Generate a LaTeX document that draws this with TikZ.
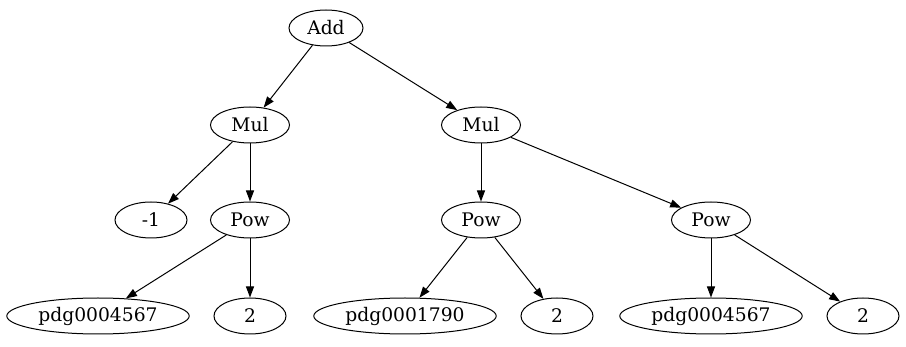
\documentclass[tikz,border=0pt]{standalone}
\usepackage{fontspec}
\setmainfont{DejaVu Serif}
\usetikzlibrary{arrows.meta,shapes.geometric}

\tikzset{
  expr/.style={draw,ellipse,line width=1pt,minimum height=36pt,minimum width=72pt,
    inner xsep=4.9pt,inner ysep=0pt,font=\fontsize{18.7}{22}\selectfont},
  opnode/.style={expr,minimum width=79pt},
  edge/.style={line width=1pt,-{Triangle[length=11pt,width=8pt]}}
}

\begin{document}
\begin{tikzpicture}[x=1pt,y=-1pt]
  \useasboundingbox (0,0) rectangle (906,347);

  % Root and operators
  \node[expr,minimum width=74pt] (add) at (326,28) {Add};
  \node[opnode] (mulL) at (250,125) {Mul};
  \node[opnode] (mulR) at (481,125) {Mul};
  \node[opnode] (powL) at (250,220) {Pow};
  \node[opnode] (powM) at (481,220) {Pow};
  \node[opnode] (powR) at (711,220) {Pow};

  % Leaves
  \node[expr] (neg) at (151,220) {-1};
  \node[expr] (pdgA) at (98,316) {pdg0004567};
  \node[expr] (twoA) at (250,316) {2};
  \node[expr] (pdgB) at (405,316) {pdg0001790};
  \node[expr] (twoB) at (557,316) {2};
  \node[expr] (pdgC) at (711,316) {pdg0004567};
  \node[expr] (twoC) at (863,316) {2};

  % Edges
  \draw[edge] (add) -- (mulL);
  \draw[edge] (add) -- (mulR);
  \draw[edge] (mulL) -- (neg);
  \draw[edge] (mulL) -- (powL);
  \draw[edge] (mulR) -- (powM);
  \draw[edge] (mulR) -- (powR);
  \draw[edge] (powL) -- (pdgA);
  \draw[edge] (powL) -- (twoA);
  \draw[edge] (powM) -- (pdgB);
  \draw[edge] (powM) -- (twoB);
  \draw[edge] (powR) -- (pdgC);
  \draw[edge] (powR) -- (twoC);
\end{tikzpicture}
\end{document}
